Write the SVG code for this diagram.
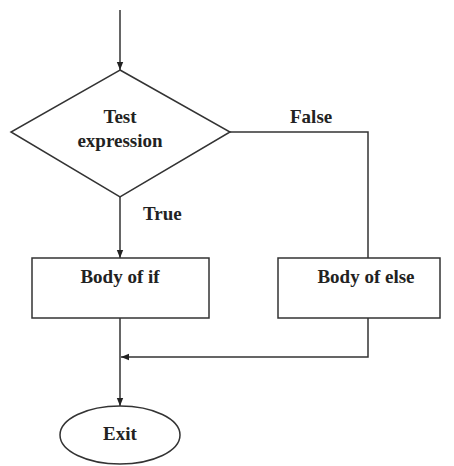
<svg xmlns="http://www.w3.org/2000/svg" width="454" height="466" viewBox="0 0 454 466">
<style>
.s{fill:#fff;stroke:#333;stroke-width:1.5}
.c{fill:none;stroke:#333;stroke-width:1.5}
text{font-family:"Liberation Serif","Times New Roman",serif;font-weight:bold;font-size:19px;fill:#222}
.m{text-anchor:middle}
</style>
<defs>
<marker id="a" viewBox="0 0 10 10" refX="10" refY="5" markerWidth="8" markerHeight="8" markerUnits="userSpaceOnUse" orient="auto">
<path d="M0,1 L10,5 L0,9 Z" fill="#222"/>
</marker>
</defs>
<rect width="454" height="466" fill="#fff"/>
<g id="connectors">
<line class="c" x1="120" y1="10" x2="120" y2="70" marker-end="url(#a)"/>
<line class="c" x1="120" y1="197" x2="120" y2="258" marker-end="url(#a)"/>
<polyline class="c" points="230,132 368,132 368,258"/>
<line class="c" x1="120" y1="318" x2="120" y2="406" marker-end="url(#a)"/>
<polyline class="c" points="368,318 368,357 121,357" marker-end="url(#a)"/>
<text x="143" y="220">True</text>
<text x="290" y="123">False</text>
</g>
<g id="decision">
<polygon class="s" points="120,70 230,132 120,197 11,132"/>
<text class="m" x="120" y="123">Test</text>
<text class="m" x="120" y="147">expression</text>
</g>
<g id="body-if">
<rect class="s" x="32" y="258" width="177" height="60"/>
<text class="m" x="120" y="283">Body of if</text>
</g>
<g id="body-else">
<rect class="s" x="278" y="258" width="162" height="60"/>
<text class="m" x="366" y="283">Body of else</text>
</g>
<g id="exit">
<ellipse class="s" cx="120" cy="435" rx="60" ry="29"/>
<text class="m" x="120" y="440">Exit</text>
</g>
</svg>
